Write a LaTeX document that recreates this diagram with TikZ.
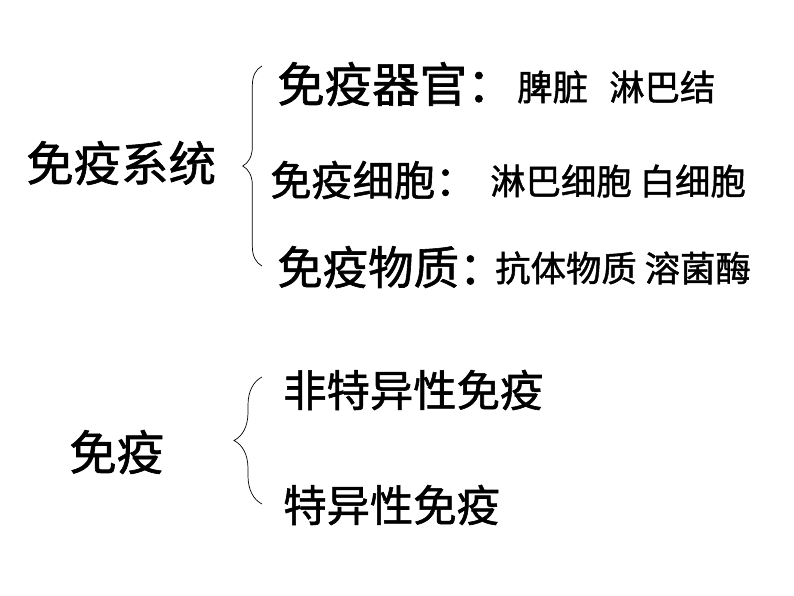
\documentclass[tikz,border=0pt]{standalone}
\usepackage{fontspec}
\usepackage{tikz}
\usetikzlibrary{decorations.pathreplacing}
\newfontfamily\cjk[FakeBold=1.3]{Noto Sans CJK SC}

\begin{document}
\begin{tikzpicture}[x=0.03cm, y=-0.03cm,
  txt/.style={anchor=west, inner sep=0pt, font=\cjk\fontsize{#1}{#1}\selectfont},
  smalltxt/.style={txt=30.2},
  curly/.style={decorate, decoration={brace, amplitude=#1}, line width=0.6pt}]

%% page frame (fixes the margins)
\fill[white] (0,0) rectangle (794,596);

%% first block: immune system
\node[txt=40.5] (sys) at (26,163) {免疫系统};
\coordinate (b1lo) at (262,266);
\coordinate (b1hi) at (262,66);
\draw[curly=0.58cm] (b1lo) -- (b1hi);

\node[txt=40.5] (organ) at (277,84) {免疫器官：};
\node[smalltxt] (organx) at (517,87) {脾脏\hspace{0.6em}淋巴结};
\node[txt=35.2] (cell) at (270,180) {免疫细胞：};
\node[smalltxt] (cellx) at (490,181) {淋巴细胞 白细胞};
\node[txt=38.8] (subst) at (277,267) {免疫物质：};
\node[smalltxt] (substx) at (495,268) {抗体物质 溶菌酶};

%% second block: immunity
\node[txt=40.5] (imm) at (69,452) {免疫};
\coordinate (b2lo) at (262,504);
\coordinate (b2hi) at (262,377);
\draw[curly=0.84cm] (b2lo) -- (b2hi);

\node[txt=37] (nonspec) at (283,390) {非特异性免疫};
\node[txt=37] (spec) at (283,505) {特异性免疫};

\end{tikzpicture}
\end{document}
